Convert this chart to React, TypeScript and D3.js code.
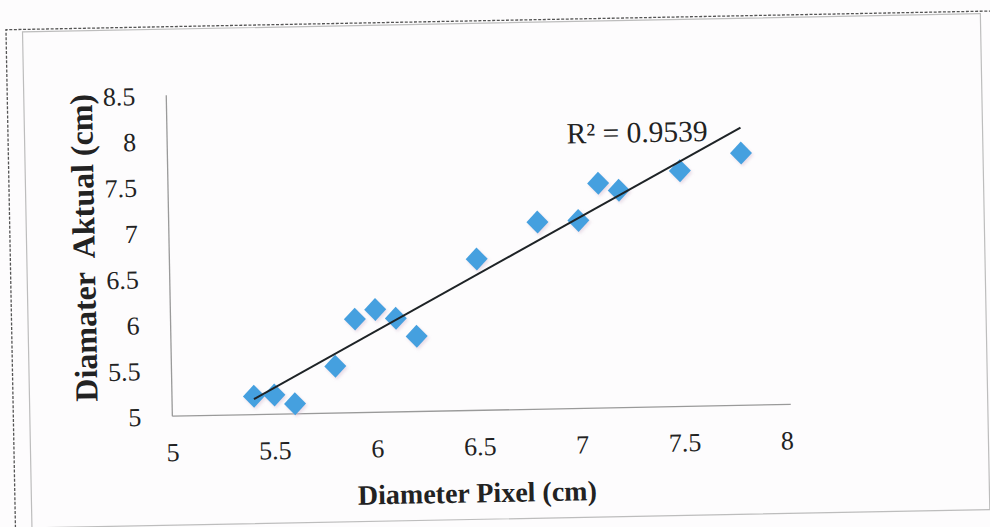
import React from "react";
import * as d3 from "d3";

// Data
const xValues = [5.4, 5.5, 5.6, 5.8, 5.9, 6.0, 6.1, 6.2, 6.5, 6.8, 7.0, 7.1, 7.2, 7.5, 7.8];
const yValues = [5.2, 5.21, 5.11, 5.51, 6.02, 6.12, 6.02, 5.82, 6.65, 7.04, 7.05, 7.45, 7.37, 7.57, 7.75];
const xTicks = [5, 5.5, 6, 6.5, 7, 7.5, 8];
const yTicks = [5, 5.5, 6, 6.5, 7, 7.5, 8, 8.5];
const xTitle = "Diameter Pixel (cm)";
const yTitle = "Diamater  Aktual (cm)";
const r2Label = "R² = 0.9539";

const W = 990;
const H = 527;
const FONT = "'Liberation Serif', 'Times New Roman', serif";

export default function App() {
  const x = d3.scaleLinear().domain([5, 8]).range([169.5, 784]);
  const y = d3.scaleLinear().domain([5, 8.5]).range([410, 89]);

  const mx = d3.mean(xValues) as number;
  const my = d3.mean(yValues) as number;
  const sxy = d3.sum(xValues.map((v, i) => (v - mx) * (yValues[i] - my)));
  const sxx = d3.sum(xValues.map((v) => (v - mx) * (v - mx)));
  const slope = sxy / sxx;
  const intercept = my - slope * mx;
  const [x0, x1] = d3.extent(xValues) as [number, number];
  const trend = d3
    .line<number>()
    .x((d) => x(d))
    .y((d) => y(intercept + slope * d))([x0, x1]);

  const diamond = d3.line<[number, number]>()([
    [0, -11.5],
    [11, 0],
    [0, 11.5],
    [-11, 0],
  ]) + "Z";

  const points = xValues.map((v, i) => ({ x: v, y: yValues[i] }));

  return (
    <svg
      width={W}
      height={H}
      viewBox={`0 0 ${W} ${H}`}
      style={{ position: "absolute", left: 0, top: 0, background: "#fdfcfd" }}
      fontFamily={FONT}
    >
      <defs>
        <filter id="blur" x="-50%" y="-50%" width="200%" height="200%">
          <feGaussianBlur stdDeviation="1.5" />
        </filter>
      </defs>
      <rect width={W} height={H} fill="#fdfcfd" />
      <g transform="rotate(-1.09, 495, 263)">
        {/* page frame (dashed) */}
        <path
          d="M10.5,560 L10.5,20.5 L1010,20.5"
          fill="none"
          stroke="#555"
          strokeWidth={1.3}
          strokeDasharray="3 1.6"
        />
        {/* chart area border */}
        <rect x={27} y={23} width={958} height={496} fill="none" stroke="#bdbdbd" strokeWidth={1.2} />

        {/* axes */}
        <line x1={x(5)} x2={x(8) + 4} y1={y(5)} y2={y(5)} stroke="#9a9a9a" strokeWidth={1.3} />
        <line x1={x(5)} x2={x(5)} y1={y(5)} y2={y(8.5)} stroke="#9a9a9a" strokeWidth={1.3} />

        {/* y tick labels */}
        {yTicks.map((t) => (
          <text key={"y" + t} x={138.5} y={y(t)} dy="0.36em" textAnchor="end" fontSize={26} fill="#222">
            {String(t)}
          </text>
        ))}
        {/* x tick labels */}
        {xTicks.map((t) => (
          <text key={"x" + t} x={x(t)} y={455} textAnchor="middle" fontSize={26} fill="#222">
            {String(t)}
          </text>
        ))}

        {/* markers */}
        {points.map((p, i) => (
          <g key={"s" + i} transform={`translate(${x(p.x) + 1.5},${y(p.y) + 2})`}>
            <path d={diamond} fill="#d9c3d6" opacity={0.55} filter="url(#blur)" />
          </g>
        ))}
        {points.map((p, i) => (
          <g key={"p" + i} transform={`translate(${x(p.x)},${y(p.y)})`}>
            <path d={diamond} fill="#45a0df" />
          </g>
        ))}

        {/* trendline */}
        <path d={trend ?? ""} fill="none" stroke="#1e2326" strokeWidth={2} />

        {/* R² label */}
        <text x={569} y={145} fontSize={29.5} fill="#222">
          {r2Label}
        </text>

        {/* axis titles */}
        <text x={473} y={502} textAnchor="middle" fontSize={28} fontWeight="bold" fill="#222">
          {xTitle}
        </text>
        <text
          transform="translate(95,240) rotate(-90)"
          textAnchor="middle"
          fontSize={32}
          fontWeight="bold"
          fill="#222"
          style={{ whiteSpace: "pre" }}
        >
          {yTitle}
        </text>
      </g>
    </svg>
  );
}
